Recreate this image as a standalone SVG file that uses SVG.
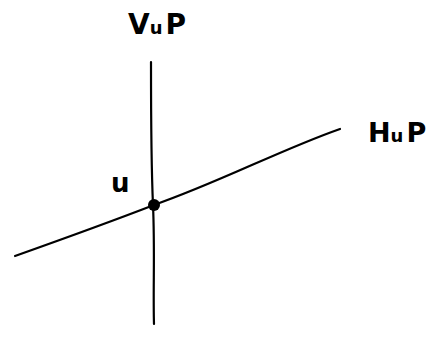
<svg xmlns="http://www.w3.org/2000/svg" width="443" height="358" viewBox="0 0 443 358">
<style>
.ln{fill:none;stroke:#000;stroke-width:2.2;stroke-linecap:round}
.t{font-family:"DejaVu Sans","Liberation Sans",sans-serif;fill:#000;font-weight:bold}
</style>
<rect width="443" height="358" fill="#fff"/>
<g id="connectors">
<path class="ln" d="M151,62 C151,100 151,160 153,205 C155,250 153,290 154,324"/>
<path class="ln" d="M15,256 C60,240 110,222 154,205 C220,182 280,150 340,129"/>
</g>
<g id="u">
<circle cx="154" cy="205" r="6" fill="#000"/>
<text class="t" x="111" y="192" font-size="26">u</text>
</g>
<g id="VuP">
<text class="t" x="128" y="34" font-size="28">V<tspan font-size="18">u</tspan><tspan dx="3">P</tspan></text>
</g>
<g id="HuP">
<text class="t" x="368" y="142" font-size="27">H<tspan font-size="18">u</tspan><tspan dx="3">P</tspan></text>
</g>
</svg>
